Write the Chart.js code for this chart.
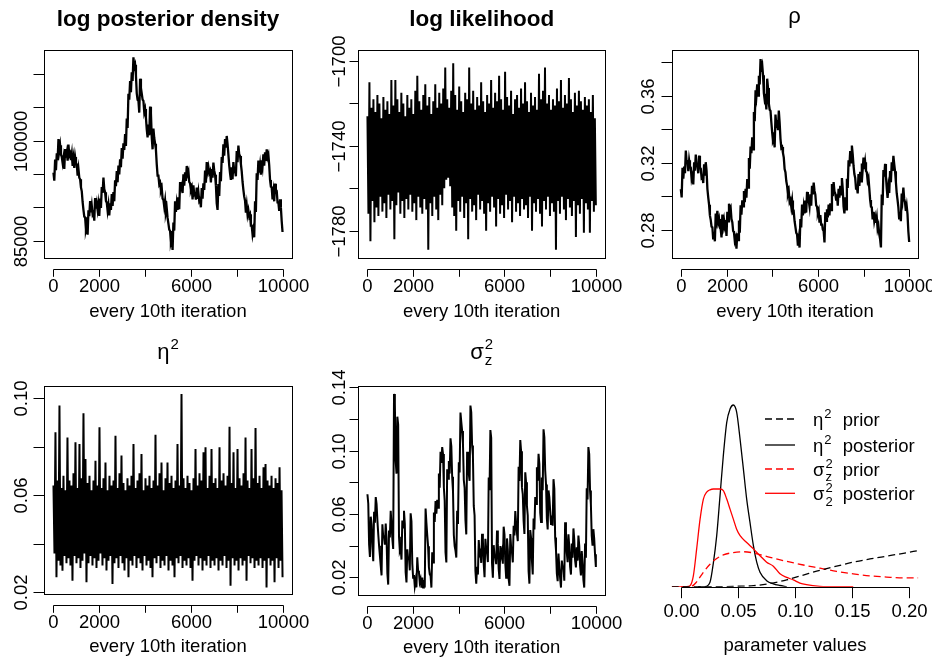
<!DOCTYPE html>
<html><head><meta charset="utf-8">
<script src="https://cdn.jsdelivr.net/npm/chart.js@4.4.1/dist/chart.umd.min.js"></script>
<style>
html,body{margin:0;padding:0;background:#fff;}
#wrap{position:relative;width:932px;height:658px;overflow:hidden;background:#fff;}
canvas{position:absolute;left:0;top:0;}
</style></head><body><div id="wrap">
<canvas id="c1" width="932" height="658"></canvas>
<canvas id="c2" width="932" height="658"></canvas>
<canvas id="c3" width="932" height="658"></canvas>
<canvas id="c4" width="932" height="658"></canvas>
<canvas id="c5" width="932" height="658"></canvas>
<canvas id="c6" width="932" height="658"></canvas>
</div>
<script>
// ---------- data ----------
const ITER_MAX = 10000;
const iterTicks = [0, 2000, 4000, 6000, 8000, 10000];
const iterLabels = ['0', '2000', '', '6000', '', '10000'];

const logPost = [95200,94000,97150,95550,98100,97100,100250,98450,99300,97900,97550,96650,97450,95750,98750,97450,98200,97000,99400,97800,
98100,97100,98000,96200,97300,95900,97550,96650,96450,94750,95750,94450,94200,93000,92400,90800,89600,88600,88500,86700,
87300,85900,89550,88650,90950,89250,90250,88950,89200,88000,91400,89800,90600,89600,90500,88700,91300,89900,93050,92150,
94450,92750,92250,90950,90700,89500,90400,88800,90600,89600,92000,90200,92300,90900,94050,93150,95450,93750,96250,94950,
97200,96000,98900,97300,99600,98600,101000,99200,103300,101900,107050,106150,108950,107250,110250,108950,112500,111000,111400,109800,
107100,106100,106000,104200,109300,107900,107050,106150,105950,104250,104750,103450,101700,100500,102400,100800,105100,104100,100500,98700,
101800,100400,99550,98650,96450,94750,94750,93450,93700,92500,92900,91300,91100,90100,91000,89200,89800,88400,87550,86650,
86450,84750,85250,83600,87700,86500,90900,89300,90600,89600,91500,89700,93800,92400,93050,92150,94950,93250,95250,93950,
96200,95000,95400,93800,93600,92600,93000,91200,93300,91900,92050,91150,92950,91250,92250,90950,91200,90000,92900,91300,
93600,92600,95500,93700,96800,95400,96050,95150,95450,93750,95750,94450,96700,95500,94900,93300,90600,89600,93500,91700,
95300,93900,97550,96650,99450,97750,100250,98950,100700,99500,97900,96300,95100,94100,96000,94200,96800,95400,95550,94650,
98450,96750,99250,97950,97700,96500,95400,93800,92600,91600,91000,89200,90300,88900,89550,88650,88950,87250,87250,85950,
86700,85500,90900,89300,95100,94100,97000,95200,96300,94900,97050,96150,97950,96250,98250,96950,98700,97500,97900,96300,
94100,93100,93000,91200,92300,90900,93550,92650,92450,90750,90750,89450,91200,90000,87900,86300];
const logPostTicks = [85000, 90000, 95000, 100000, 105000, 110000];
const logPostLabels = ['85000', '', '', '100000', '', ''];

const logLik = [-1726,-1772,-1710,-1785,-1722,-1766,-1718,-1776,-1724,-1769,
-1716,-1773,-1720,-1764,-1727,-1771,-1717,-1767,-1723,-1774,
-1719,-1763,-1725,-1770,-1709,-1766,-1721,-1784,-1709,-1768,
-1718,-1762,-1724,-1772,-1715,-1766,-1720,-1774,-1726,-1765,
-1716,-1770,-1722,-1763,-1718,-1771,-1725,-1767,-1714,-1775,
-1707,-1764,-1719,-1769,-1723,-1772,-1716,-1765,-1711,-1770,
-1721,-1789,-1717,-1767,-1725,-1773,-1719,-1764,-1711,-1770,
-1722,-1775,-1715,-1763,-1720,-1768,-1713,-1760,-1703,-1756,
-1718,-1755,-1722,-1759,-1714,-1769,-1701,-1773,-1716,-1780,
-1723,-1766,-1712,-1771,-1719,-1764,-1724,-1774,-1715,-1767,
-1718,-1784,-1703,-1765,-1720,-1771,-1714,-1768,-1723,-1775,
-1717,-1763,-1721,-1770,-1710,-1766,-1719,-1772,-1724,-1780,
-1716,-1767,-1720,-1771,-1709,-1764,-1722,-1769,-1715,-1778,
-1719,-1765,-1707,-1772,-1718,-1768,-1723,-1774,-1705,-1763,
-1717,-1770,-1721,-1766,-1714,-1776,-1725,-1764,-1718,-1771,
-1716,-1767,-1722,-1773,-1713,-1765,-1720,-1770,-1710,-1768,
-1719,-1774,-1724,-1764,-1715,-1780,-1721,-1767,-1717,-1771,
-1723,-1765,-1706,-1772,-1718,-1778,-1714,-1766,-1703,-1770,
-1720,-1764,-1716,-1773,-1723,-1767,-1718,-1771,-1721,-1789,
-1713,-1766,-1719,-1772,-1709,-1764,-1722,-1770,-1716,-1775,
-1720,-1765,-1708,-1769,-1718,-1773,-1724,-1766,-1715,-1783,
-1721,-1768,-1714,-1772,-1719,-1765,-1723,-1781,-1717,-1767,
-1721,-1770,-1718,-1781,-1724,-1766,-1716,-1771,-1727,-1768];
const logLikTicks = [-1780, -1760, -1740, -1720, -1700];
const logLikLabels = ['\u22121780', '', '\u22121740', '', '\u22121700'];

const rho = [0.3044,0.2994,0.3170,0.3106,0.3178,0.3138,0.3273,0.3201,0.3206,0.3150,0.3215,0.3179,0.3172,0.3104,0.3124,0.3072,
0.3203,0.3153,0.3249,0.3185,0.3178,0.3138,0.3243,0.3171,0.3166,0.3110,0.3116,0.3080,0.3192,0.3124,0.3204,0.3152,
0.3044,0.2994,0.2951,0.2887,0.2860,0.2820,0.2816,0.2744,0.2788,0.2732,0.2898,0.2862,0.2914,0.2846,0.2866,0.2814,
0.2805,0.2755,0.2892,0.2828,0.2860,0.2820,0.2836,0.2764,0.2908,0.2852,0.2957,0.2921,0.2933,0.2865,0.2846,0.2794,
0.2785,0.2735,0.2753,0.2689,0.2780,0.2740,0.2856,0.2784,0.2947,0.2891,0.2977,0.2941,0.3033,0.2965,0.3045,0.2993,
0.3103,0.3053,0.3229,0.3165,0.3297,0.3257,0.3353,0.3281,0.3504,0.3448,0.3633,0.3597,0.3669,0.3601,0.3720,0.3668,
0.3819,0.3769,0.3786,0.3722,0.3615,0.3575,0.3591,0.3519,0.3702,0.3646,0.3553,0.3517,0.3510,0.3442,0.3382,0.3330,
0.3342,0.3292,0.3488,0.3424,0.3436,0.3396,0.3512,0.3440,0.3345,0.3289,0.3295,0.3259,0.3231,0.3163,0.3144,0.3092,
0.3063,0.3013,0.3031,0.2967,0.2979,0.2939,0.2975,0.2903,0.2908,0.2852,0.2818,0.2782,0.2774,0.2706,0.2747,0.2695,
0.2865,0.2815,0.2951,0.2887,0.2939,0.2899,0.2975,0.2903,0.3027,0.2971,0.2977,0.2941,0.3013,0.2945,0.3064,0.3012,
0.3083,0.3033,0.3011,0.2947,0.2939,0.2899,0.2916,0.2844,0.2888,0.2832,0.2838,0.2802,0.2794,0.2726,0.2906,0.2854,
0.2924,0.2874,0.2951,0.2887,0.2959,0.2919,0.3074,0.3002,0.3086,0.3030,0.3017,0.2981,0.3013,0.2945,0.3045,0.2993,
0.3063,0.3013,0.3110,0.3046,0.2939,0.2899,0.2995,0.2923,0.3106,0.3050,0.3215,0.3179,0.3271,0.3203,0.3303,0.3251,
0.3183,0.3133,0.3110,0.3046,0.3058,0.3018,0.3134,0.3062,0.3146,0.3090,0.3196,0.3160,0.3231,0.3163,0.3204,0.3152,
0.3143,0.3093,0.3110,0.3046,0.2979,0.2939,0.2935,0.2863,0.2908,0.2852,0.2878,0.2842,0.2874,0.2806,0.2826,0.2774,
0.2746,0.2696,0.3011,0.2947,0.3158,0.3118,0.3194,0.3122,0.3047,0.2991,0.3056,0.3020,0.3152,0.3084,0.3204,0.3152,
0.3242,0.3192,0.3150,0.3086,0.3019,0.2979,0.2935,0.2863,0.2908,0.2852,0.3017,0.2981,0.3053,0.2985,0.2965,0.2913,
0.2944,0.2894,0.2792,0.2728];
const rhoTicks = [0.28, 0.30, 0.32, 0.34, 0.36, 0.38];
const rhoLabels = ['0.28', '', '0.32', '', '0.36', ''];

const eta2 = [0.064,0.036,0.0859,0.0262,0.066,0.033,0.0969,0.031,0.063,0.0289,
0.068,0.035,0.062,0.032,0.0838,0.034,0.066,0.031,0.064,0.0248,
0.069,0.035,0.0818,0.032,0.063,0.034,0.0811,0.030,0.067,0.033,
0.0937,0.036,0.0749,0.0241,0.065,0.032,0.068,0.035,0.062,0.031,
0.066,0.034,0.0742,0.030,0.064,0.033,0.0880,0.036,0.063,0.031,
0.067,0.034,0.0735,0.029,0.062,0.033,0.068,0.035,0.064,0.0234,
0.066,0.032,0.0845,0.034,0.063,0.030,0.069,0.035,0.0763,0.032,
0.065,0.029,0.062,0.034,0.067,0.0262,0.064,0.033,0.068,0.031,
0.0811,0.035,0.063,0.030,0.066,0.034,0.069,0.032,0.0770,0.029,
0.062,0.035,0.067,0.031,0.064,0.033,0.068,0.030,0.063,0.0262,
0.066,0.034,0.0849,0.032,0.064,0.035,0.069,0.030,0.0735,0.033,
0.062,0.031,0.067,0.035,0.0735,0.029,0.065,0.033,0.068,0.031,
0.063,0.0262,0.066,0.034,0.0811,0.032,0.064,0.035,0.1017,0.030,
0.067,0.033,0.063,0.031,0.068,0.034,0.065,0.030,0.062,0.0248,
0.067,0.033,0.0790,0.035,0.064,0.031,0.069,0.034,0.066,0.029,
0.0777,0.033,0.0797,0.031,0.063,0.035,0.068,0.030,0.0790,0.033,
0.065,0.031,0.067,0.034,0.063,0.029,0.0797,0.033,0.066,0.031,
0.069,0.035,0.064,0.030,0.068,0.033,0.0882,0.0227,0.065,0.034,
0.0777,0.031,0.063,0.033,0.0790,0.029,0.067,0.034,0.064,0.031,
0.069,0.033,0.0838,0.0248,0.066,0.035,0.063,0.032,0.0790,0.034,
0.067,0.030,0.0877,0.033,0.065,0.031,0.068,0.034,0.063,0.030,
0.0715,0.033,0.0728,0.0220,0.066,0.034,0.064,0.031,0.068,0.033,
0.063,0.0241,0.067,0.034,0.065,0.030,0.0715,0.033,0.062,0.0262];
const eta2Ticks = [0.02, 0.04, 0.06, 0.08, 0.10];
const eta2Labels = ['0.02', '', '0.06', '', '0.10'];

const sigmaZ2 = [0.0725,0.0665,0.0408,0.0328,0.0583,0.0533,0.0392,0.0302,0.0614,0.0544,0.0707,0.0663,0.0558,0.0474,0.0400,0.0336,
0.0272,0.0212,0.0535,0.0455,0.0457,0.0407,0.0540,0.0450,0.0224,0.0154,0.0496,0.0452,0.0621,0.0537,0.0443,0.0379,
0.1359,0.1299,0.0935,0.0855,0.1215,0.1165,0.0456,0.0366,0.0382,0.0312,0.0559,0.0515,0.0621,0.0537,0.0232,0.0168,
0.0377,0.0317,0.0324,0.0244,0.0604,0.0554,0.0287,0.0197,0.0214,0.0144,0.0180,0.0136,0.0326,0.0242,0.0232,0.0168,
0.0188,0.0135,0.0198,0.0135,0.0183,0.0135,0.0635,0.0545,0.0467,0.0397,0.0264,0.0220,0.0210,0.0135,0.0358,0.0294,
0.0609,0.0549,0.0682,0.0602,0.0689,0.0639,0.0856,0.0766,0.0993,0.0923,0.1023,0.0979,0.0769,0.0685,0.0358,0.0294,
0.0883,0.0823,0.0935,0.0855,0.1078,0.1028,0.0835,0.0745,0.0467,0.0397,0.0369,0.0325,0.0621,0.0537,0.0927,0.0863,
0.1241,0.1181,0.1125,0.1045,0.0815,0.0765,0.0561,0.0471,0.0993,0.0923,0.0854,0.0810,0.1285,0.1243,0.1033,0.0969,
0.0651,0.0591,0.0240,0.0160,0.0267,0.0217,0.0435,0.0345,0.0361,0.0291,0.0475,0.0431,0.0284,0.0200,0.0443,0.0379,
0.0356,0.0296,0.0830,0.0750,0.1131,0.1081,0.0287,0.0197,0.0403,0.0333,0.0327,0.0283,0.0495,0.0411,0.0253,0.0189,
0.0398,0.0338,0.0366,0.0286,0.0520,0.0470,0.0287,0.0197,0.0446,0.0376,0.0190,0.0146,0.0474,0.0390,0.0358,0.0294,
0.0525,0.0465,0.0619,0.0539,0.0478,0.0428,0.0898,0.0808,0.1067,0.0997,0.0770,0.0726,0.0558,0.0474,0.0864,0.0800,
0.0651,0.0591,0.0240,0.0160,0.0499,0.0449,0.0308,0.0218,0.0572,0.0502,0.0707,0.0663,0.0895,0.0811,0.0980,0.0916,
0.0609,0.0549,0.0830,0.0750,0.1135,0.1085,0.0877,0.0787,0.0572,0.0502,0.0749,0.0705,0.0621,0.0537,0.0590,0.0526,
0.0820,0.0760,0.0451,0.0371,0.0225,0.0175,0.0350,0.0260,0.0193,0.0135,0.0306,0.0262,0.0263,0.0179,0.0548,0.0484,
0.0356,0.0296,0.0472,0.0392,0.0267,0.0217,0.0413,0.0323,0.0509,0.0439,0.0306,0.0262,0.0389,0.0305,0.0464,0.0400,
0.0272,0.0212,0.0366,0.0286,0.0183,0.0135,0.0413,0.0323,0.0762,0.0692,0.1023,0.0979,0.0748,0.0664,0.0464,0.0400,
0.0504,0.0444,0.0345,0.0265];
const sigmaZ2Ticks = [0.02, 0.04, 0.06, 0.08, 0.10, 0.12, 0.14];
const sigmaZ2Labels = ['0.02', '', '0.06', '', '0.10', '', '0.14'];

// densities (bottom-right panel)
const etaPriorX = [-0.0082,0.0342,0.0488,0.0635,0.0781,0.0927,0.1073,0.1219,0.1365,0.1511,0.1658,0.1804,0.1950,0.2082];
const etaPriorY = [0,0,0.1,0.25,0.8,1.7,2.9,4.1,5.1,6.1,6.9,7.6,8.3,9.0];
const etaPostX = [0.0150,0.0211,0.0254,0.0284,0.0313,0.0342,0.0371,0.0401,0.0430,0.0459,0.0488,0.0518,0.0547,0.0576,0.0605,0.0635,0.0664,0.0693,0.0751,0.0810,0.0868,0.0927];
const etaPostY = [0,0,1.1,6.0,12.7,22.6,32.6,40.9,44.2,45.2,43.4,36.7,29.3,21.8,16.0,10.2,6.1,3.6,1.5,0.7,0.3,0];
const sigPriorX = [0.0000,0.0050,0.0094,0.0137,0.0196,0.0254,0.0313,0.0371,0.0459,0.0547,0.0635,0.0781,0.0927,0.1073,0.1219,0.1365,0.1511,0.1658,0.1804,0.1950,0.2082];
const sigPriorY = [0,0,0.1,1.2,3.6,5.6,7.0,7.9,8.5,8.7,8.4,7.3,6.3,5.4,4.6,3.8,3.2,2.7,2.4,2.2,2.2];
const sigPostX = [-0.0082,0.0050,0.0079,0.0108,0.0137,0.0167,0.0196,0.0225,0.0254,0.0284,0.0342,0.0371,0.0401,0.0430,0.0459,0.0488,0.0518,0.0576,0.0635,0.0693,0.0751,0.0810,0.0868,0.0927,0.0985,0.1043,0.1101,0.1219,0.1365,0.1511];
const sigPostY = [0,0,0.25,2.7,9.4,16.8,21.8,23.5,24.1,24.3,24.3,23.9,21.8,19.3,16.8,14.3,12.7,11.0,9.4,7.7,6.1,5.1,3.2,2.3,1.7,0.9,0.5,0.1,0,0];
const paramTicks = [0, 0.05, 0.10, 0.15, 0.20];
const paramLabels = ['0.00', '0.05', '0.10', '0.15', '0.20'];

// ---------- drawing ----------
const FF = '"Liberation Sans", Arial, Helvetica, sans-serif';
const FS = 18.5;
const W = 932, H = 658;

function traceXY(vals){ const n = vals.length; return vals.map((v, i) => ({x: i * ITER_MAX / (n - 1), y: v})); }
function xyPairs(xs, ys){ return xs.map((x, i) => ({x: x, y: ys[i]})); }

function drawMath(ctx, x, y, base, sup, sub, size, align){
  ctx.font = size + 'px ' + FF;
  const wb = ctx.measureText(base).width;
  const ss = Math.round(size * 0.7);
  ctx.font = ss + 'px ' + FF;
  const ws = Math.max(sup ? ctx.measureText(sup).width : 0, sub ? ctx.measureText(sub).width : 0);
  const total = wb + 1 + ws;
  const sx = align === 'center' ? x - total / 2 : x;
  ctx.textAlign = 'left'; ctx.textBaseline = 'alphabetic';
  ctx.font = size + 'px ' + FF; ctx.fillText(base, sx, y);
  ctx.font = ss + 'px ' + FF;
  if (sup) ctx.fillText(sup, sx + wb + 1, y - size * 0.42);
  if (sub) ctx.fillText(sub, sx + wb + 1, y + size * 0.30);
}

const rAxes = {
  id: 'rAxes',
  afterDraw(chart, args, o){
    const ctx = chart.ctx, a = chart.chartArea, xs = chart.scales.x, ys = chart.scales.y;
    ctx.save();
    ctx.strokeStyle = '#000'; ctx.fillStyle = '#000'; ctx.lineWidth = 1; ctx.setLineDash([]);
    if (o.box) {
      const l = Math.round(a.left), t = Math.round(a.top), r = Math.round(a.right), b = Math.round(a.bottom);
      ctx.strokeRect(l + 0.5, t + 0.5, r - l, b - t);
    }
    if (o.xTicks) {
      const yA = Math.round(a.bottom + o.xOff) + 0.5;
      const px = o.xTicks.map(v => Math.round(xs.getPixelForValue(v)) + 0.5);
      ctx.beginPath(); ctx.moveTo(px[0], yA); ctx.lineTo(px[px.length - 1], yA);
      px.forEach(p => { ctx.moveTo(p, yA); ctx.lineTo(p, yA + o.xTickLen); });
      ctx.stroke();
      ctx.font = FS + 'px ' + FF; ctx.textAlign = 'center'; ctx.textBaseline = 'alphabetic';
      o.xTicks.forEach((v, i) => { if (o.xLabels[i]) ctx.fillText(o.xLabels[i], px[i], a.bottom + o.xLabOff); });
      if (o.xTitle) ctx.fillText(o.xTitle, (a.left + a.right) / 2, a.bottom + o.xTitleOff);
    }
    if (o.yTicks) {
      const xA = Math.round(a.left) + 0.5;
      const py = o.yTicks.map(v => Math.round(ys.getPixelForValue(v)) + 0.5);
      ctx.beginPath();
      py.forEach(p => { ctx.moveTo(xA, p); ctx.lineTo(xA - o.yTickLen, p); });
      ctx.stroke();
      ctx.font = FS + 'px ' + FF; ctx.textAlign = 'center'; ctx.textBaseline = 'alphabetic';
      o.yTicks.forEach((v, i) => {
        if (o.yLabels[i]) {
          ctx.save(); ctx.translate(a.left - o.yLabOff, py[i]); ctx.rotate(-Math.PI / 2);
          ctx.fillText(o.yLabels[i], 0, 0); ctx.restore();
        }
      });
    }
    if (o.title) {
      const cx = (a.left + a.right) / 2;
      if (o.title.bold) {
        ctx.font = 'bold 22.5px ' + FF; ctx.textAlign = 'center'; ctx.textBaseline = 'alphabetic';
        ctx.fillText(o.title.text, cx, a.top - 24.2);
      } else {
        drawMath(ctx, cx, a.top - 27, o.title.base, o.title.sup, o.title.sub, 22, 'center');
      }
    }
    if (o.legend) {
      const L = o.legend;
      L.items.forEach((it, i) => {
        const y = L.ys[i];
        ctx.strokeStyle = it.color; ctx.fillStyle = '#000'; ctx.lineWidth = 1.3;
        ctx.setLineDash(it.dash ? [7, 4] : []);
        ctx.beginPath(); ctx.moveTo(L.x0, y); ctx.lineTo(L.x1, y); ctx.stroke();
        ctx.setLineDash([]);
        drawMath(ctx, L.symX, y + 6.7, it.base, it.sup, it.sub, FS, 'left');
        ctx.font = FS + 'px ' + FF; ctx.textAlign = 'left';
        ctx.fillText(it.text, L.textX, y + 6.7);
      });
    }
    ctx.restore();
  }
};

function traceChart(id, vals, box, ymin, ymax, yTicks, yLabels, yTickLen, yLabOff, title, lw){
  return new Chart(document.getElementById(id), {
    type: 'line',
    data: { datasets: [{ data: traceXY(vals), borderColor: '#000', borderWidth: lw, pointRadius: 0, fill: false, tension: 0 }] },
    options: {
      responsive: false, animation: false, devicePixelRatio: 1, events: [],
      layout: { padding: { left: box[0], top: box[1], right: W - box[2], bottom: H - box[3] } },
      scales: {
        x: { type: 'linear', min: -400, max: 10400, display: false },
        y: { type: 'linear', min: ymin, max: ymax, display: false }
      },
      plugins: {
        legend: { display: false }, tooltip: { enabled: false },
        rAxes: {
          box: true,
          xTicks: iterTicks, xLabels: iterLabels, xOff: 11, xTickLen: 7.3, xLabOff: 34, xTitle: 'every 10th iteration', xTitleOff: 58.4,
          yTicks: yTicks, yLabels: yLabels, yTickLen: yTickLen, yLabOff: yLabOff,
          title: title
        }
      }
    },
    plugins: [rAxes]
  });
}

traceChart('c1', logPost, [44.3, 50, 291.7, 258.3], 82350, 113600, logPostTicks, logPostLabels, 11, 17.6, {bold: true, text: 'log posterior density'}, 2.3);
traceChart('c2', logLik, [358.3, 50, 605, 258.3], -1793, -1694.8, logLikTicks, logLikLabels, 9, 13, {bold: true, text: 'log likelihood'}, 2);
traceChart('c3', rho, [671.7, 50, 918.3, 258.3], 0.2631, 0.3873, rhoTicks, rhoLabels, 11, 17.6, {base: '\u03C1'}, 2.3);
traceChart('c4', eta2, [44.3, 385.7, 291.7, 594], 0.0193, 0.1051, eta2Ticks, eta2Labels, 11, 17.6, {base: '\u03B7', sup: '2'}, 2);
traceChart('c5', sigmaZ2, [358.3, 385.7, 605, 594.7], 0.0090, 0.1411, sigmaZ2Ticks, sigmaZ2Labels, 9, 13, {base: '\u03C3', sup: '2', sub: 'z'}, 2);

new Chart(document.getElementById('c6'), {
  type: 'line',
  data: { datasets: [
    { data: xyPairs(etaPriorX, etaPriorY), borderColor: '#000', borderWidth: 1.3, borderDash: [7, 4], pointRadius: 0, fill: false, cubicInterpolationMode: 'monotone' },
    { data: xyPairs(sigPriorX, sigPriorY), borderColor: '#ff0000', borderWidth: 1.3, borderDash: [7, 4], pointRadius: 0, fill: false, cubicInterpolationMode: 'monotone' },
    { data: xyPairs(sigPostX, sigPostY), borderColor: '#ff0000', borderWidth: 1.3, pointRadius: 0, fill: false, cubicInterpolationMode: 'monotone' },
    { data: xyPairs(etaPostX, etaPostY), borderColor: '#000', borderWidth: 1.3, pointRadius: 0, fill: false, cubicInterpolationMode: 'monotone' }
  ] },
  options: {
    responsive: false, animation: false, devicePixelRatio: 1, events: [],
    layout: { padding: { left: 671.7, top: 385.7, right: W - 918.3, bottom: H - 586.7 } },
    scales: {
      x: { type: 'linear', min: -0.0082, max: 0.2082, display: false },
      y: { type: 'linear', min: 0, max: 50, display: false }
    },
    plugins: {
      legend: { display: false }, tooltip: { enabled: false },
      rAxes: {
        box: false,
        xTicks: paramTicks, xLabels: paramLabels, xOff: 0, xTickLen: 10.7, xLabOff: 30.6, xTitle: 'parameter values', xTitleOff: 64,
        legend: {
          x0: 765, x1: 795, symX: 813, textX: 842.7, ys: [419, 445, 469, 493.3],
          items: [
            { color: '#000', dash: true, base: '\u03B7', sup: '2', text: 'prior' },
            { color: '#000', dash: false, base: '\u03B7', sup: '2', text: 'posterior' },
            { color: '#ff0000', dash: true, base: '\u03C3', sup: '2', sub: 'z', text: 'prior' },
            { color: '#ff0000', dash: false, base: '\u03C3', sup: '2', sub: '2', text: 'posterior' }
          ]
        }
      }
    }
  },
  plugins: [rAxes]
});
</script>
</body></html>
